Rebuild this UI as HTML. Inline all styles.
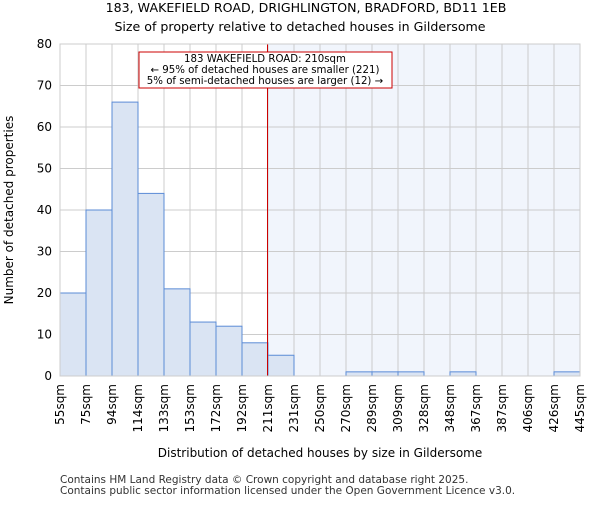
<!DOCTYPE html>
<html><head><meta charset="utf-8"><style>
body{margin:0;background:#fff;font-family:"Liberation Sans","DejaVu Sans",sans-serif}
svg text{font-family:"DejaVu Sans","Liberation Sans",sans-serif}
</style></head><body>
<svg width="600" height="500" xmlns="http://www.w3.org/2000/svg">
<rect x="267.5" y="44" width="312.5" height="332" fill="#f1f5fc"/>
<g id="grid"></g>
<g id="bars"></g>
<line x1="267.5" y1="44" x2="267.5" y2="376" stroke="#cc0000" stroke-width="1"/>
<rect x="60" y="44" width="520" height="332" fill="none" stroke="#ccc"/>
<g id="yt"></g><g id="xt"></g>
<text x="306" y="12" text-anchor="middle" font-size="12.6">183, WAKEFIELD ROAD, DRIGHLINGTON, BRADFORD, BD11 1EB</text>
<text x="300" y="31" text-anchor="middle" font-size="12.6">Size of property relative to detached houses in Gildersome</text>
<text transform="translate(13,210) rotate(-90)" text-anchor="middle" font-size="12">Number of detached properties</text>
<text x="320" y="457" text-anchor="middle" font-size="12">Distribution of detached houses by size in Gildersome</text>
<g>
<rect x="139" y="52" width="253" height="36" fill="#fff" stroke="#cc0000"/>
<text x="265" y="62" text-anchor="middle" font-size="10.2">183 WAKEFIELD ROAD: 210sqm</text>
<text x="265" y="73" text-anchor="middle" font-size="10.2">← 95% of detached houses are smaller (221)</text>
<text x="265" y="84" text-anchor="middle" font-size="10.2">5% of semi-detached houses are larger (12) →</text>
</g>
<text x="60" y="483" font-size="10.5" fill="#333">Contains HM Land Registry data © Crown copyright and database right 2025.</text>
<text x="60" y="494" font-size="10.5" fill="#333">Contains public sector information licensed under the Open Government Licence v3.0.</text>
</svg>
<script>
const edgeLabels=["55sqm","75sqm","94sqm","114sqm","133sqm","153sqm","172sqm","192sqm","211sqm","231sqm","250sqm","270sqm","289sqm","309sqm","328sqm","348sqm","367sqm","387sqm","406sqm","426sqm","445sqm"];
const counts=[20,40,66,44,21,13,12,8,5,0,0,1,1,1,0,1,0,0,0,1];
const yTicks=[0,10,20,30,40,50,60,70,80];
const NS="http://www.w3.org/2000/svg";
const x0=60,bw=26,yb=376,yTop=44,yMax=80;
const ys=v=>yb-(v/yMax)*(yb-yTop);
const xs=i=>x0+i*bw;
function mk(t,a,p){const e=document.createElementNS(NS,t);for(const k in a)e.setAttribute(k,a[k]);p.appendChild(e);return e;}
const grid=document.getElementById('grid'),bars=document.getElementById('bars'),yt=document.getElementById('yt'),xt=document.getElementById('xt');
yTicks.forEach(v=>{
 const l=mk('line',{x1:x0,x2:580,y1:ys(v),y2:ys(v),stroke:'#ccc'},grid);
 
 
 const t=mk('text',{x:52,y:ys(v)+4,'text-anchor':'end','font-size':'12'},yt);t.textContent=v;
 
 
});
edgeLabels.forEach((s,i)=>{
 const l=mk('line',{x1:xs(i),x2:xs(i),y1:yTop,y2:yb,stroke:'#ccc'},grid);
 
 
 const t=mk('text',{transform:`translate(${xs(i)+4},384) rotate(-90)`,'text-anchor':'end','font-size':'12'},xt);t.textContent=s;
 
 
});
counts.forEach((c,i)=>{
 if(c<=0)return;
 const r=mk('rect',{x:xs(i),y:ys(c),width:bw,height:yb-ys(c),fill:'#dae4f3',stroke:'#5b8bd6','stroke-width':1},bars);
 
 
});
</script>
</body></html>
